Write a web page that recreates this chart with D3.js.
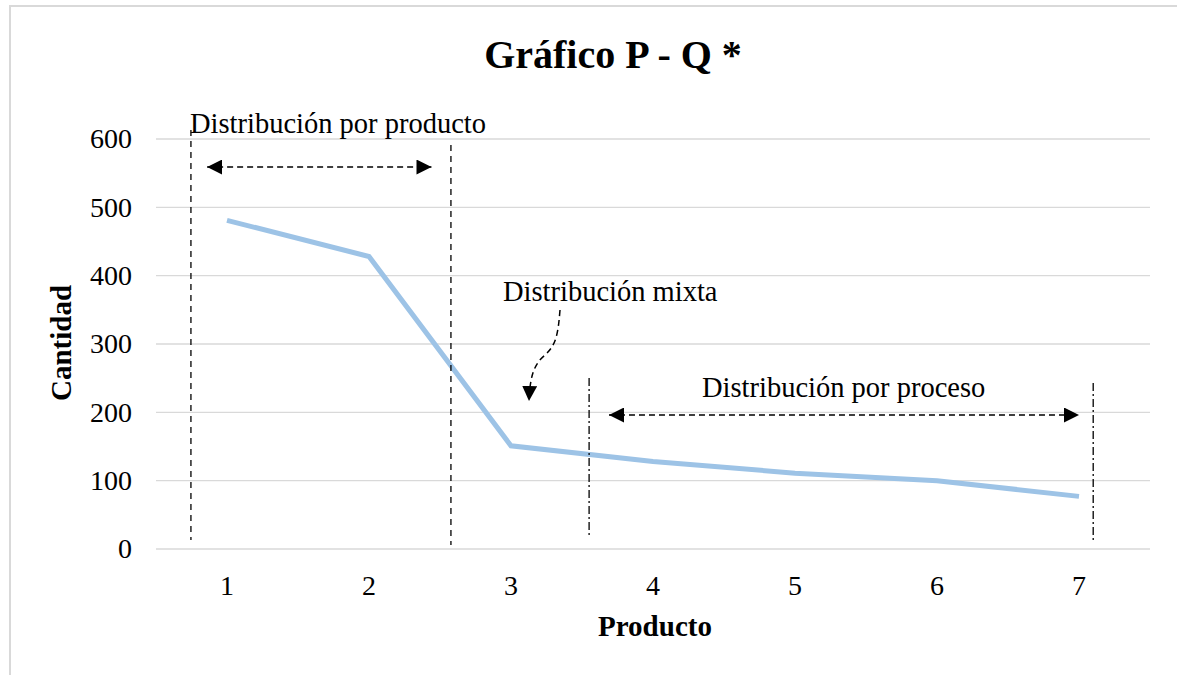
<!DOCTYPE html>
<html><head><meta charset="utf-8">
<script src="https://cdn.jsdelivr.net/npm/d3@7"></script>
<style>body{margin:0;background:#fff}svg{display:block}text{font-family:"Liberation Serif","Times New Roman",serif;fill:#000}</style>
</head><body>
<svg id="c" width="1177" height="675"></svg>
<script>
const categories = [1,2,3,4,5,6,7];
const cantidad = [481, 428, 151, 128, 111, 100, 77];
const yTicks = [0,100,200,300,400,500,600];
const title = "Gráfico P - Q *";
const xTitle = "Producto";
const yTitle = "Cantidad";
const annotations = ["Distribución por producto","Distribución mixta","Distribución por proceso"];

const svg = d3.select("#c");
// outer border
svg.append("path").attr("d","M10,675V6H1177").attr("fill","none").attr("stroke","#d9d9d9").attr("stroke-width",2);

const plot = {l:156, r:1150, t:139, b:549};
const x = d3.scaleLinear().domain([0.5,7.5]).range([plot.l, plot.r]);
const y = d3.scaleLinear().domain([0,600]).range([plot.b, plot.t]);

// gridlines
svg.append("g").selectAll("line").data(yTicks).join("line")
  .attr("x1",plot.l).attr("x2",plot.r).attr("y1",d=>y(d)).attr("y2",d=>y(d))
  .attr("stroke","#d9d9d9").attr("stroke-width",1.3);

// y tick labels
svg.append("g").selectAll("text").data(yTicks).join("text")
  .attr("x",132).attr("y",d=>y(d)).attr("dy","0.33em").attr("text-anchor","end")
  .attr("font-size",28).text(d=>d);
// x tick labels
svg.append("g").selectAll("text").data(categories).join("text")
  .attr("x",d=>x(d)).attr("y",595).attr("text-anchor","middle")
  .attr("font-size",28).text(d=>d);

// titles
svg.append("text").attr("x",613).attr("y",68).attr("text-anchor","middle")
  .attr("font-size",40).attr("font-weight","bold").text(title);
svg.append("text").attr("x",655).attr("y",636).attr("text-anchor","middle")
  .attr("font-size",29).attr("font-weight","bold").text(xTitle);
svg.append("text").attr("transform","translate(71,343) rotate(-90)").attr("text-anchor","middle")
  .attr("font-size",29).attr("font-weight","bold").text(yTitle);

// data line
svg.append("path").datum(categories.map((c,i)=>[c,cantidad[i]]))
  .attr("d", d3.line().x(d=>x(d[0])).y(d=>y(d[1])))
  .attr("fill","none").attr("stroke","#9dc3e6").attr("stroke-width",5).attr("stroke-linejoin","miter");

// arrowhead marker
const defs = svg.append("defs");
defs.append("marker").attr("id","ah").attr("viewBox","0 0 10 10").attr("refX",10).attr("refY",5)
  .attr("markerWidth",15).attr("markerHeight",15).attr("markerUnits","userSpaceOnUse").attr("orient","auto-start-reverse")
  .append("path").attr("d","M0,0L10,5L0,10Z").attr("fill","#000");

const ann = svg.append("g");
// vertical boundaries (in category units)
const vlines = [
  {c:0.746, y1:130, y2:540, dash:"6,5"},
  {c:2.577, y1:145, y2:545, dash:"6,5"},
  {c:3.55, y1:378, y2:536, dash:"8,3,2,3"},
  {c:7.1, y1:383, y2:543, dash:"8,3,2,3"}
];
ann.selectAll("line.v").data(vlines).join("line")
  .attr("x1",d=>x(d.c)).attr("x2",d=>x(d.c)).attr("y1",d=>d.y1).attr("y2",d=>d.y2)
  .attr("stroke","#000").attr("stroke-width",1.3).attr("stroke-dasharray",d=>d.dash);

// horizontal double arrows
const harrows = [{c1:0.86,c2:2.44,yy:167},{c1:3.69,c2:7.0,yy:415}];
ann.selectAll("line.h").data(harrows).join("line")
  .attr("x1",d=>x(d.c1)).attr("x2",d=>x(d.c2)).attr("y1",d=>d.yy).attr("y2",d=>d.yy)
  .attr("stroke","#000").attr("stroke-width",1.5).attr("stroke-dasharray","6,4")
  .attr("marker-start","url(#ah)").attr("marker-end","url(#ah)");

// curved arrow
ann.append("path").attr("d","M560,310 C558,335 556,345 545,355 C533,365 530,378 529,401")
  .attr("fill","none").attr("stroke","#000").attr("stroke-width",1.5).attr("stroke-dasharray","6,4")
  .attr("marker-end","url(#ah)");

// annotation texts
ann.append("text").attr("x",190).attr("y",133).attr("font-size",28.5).text(annotations[0]);
ann.append("text").attr("x",503).attr("y",301).attr("font-size",28.5).text(annotations[1]);
ann.append("text").attr("x",702).attr("y",397).attr("font-size",28.5).text(annotations[2]);
</script>
</body></html>
